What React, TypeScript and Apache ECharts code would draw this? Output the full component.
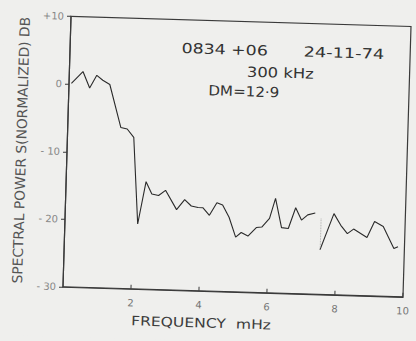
import React, { useEffect, useRef } from "react";
import * as echarts from "echarts";

// Spectrum, first section (before the break near 7.5 mHz)
const freqA = [0.07, 0.4, 0.61, 0.81, 0.99, 1.2, 1.56, 1.75, 1.95, 2.14, 2.35, 2.53, 2.73, 2.93, 3.27, 3.5, 3.7, 3.9, 4.04, 4.24, 4.45, 4.62, 4.82, 5.03, 5.19, 5.39, 5.63, 5.79, 6.01, 6.17, 6.37, 6.57, 6.77, 6.95, 7.13, 7.35];
const powerA = [0.1, 1.9, -0.5, 1.4, 0.7, 0.1, -6.2, -6.4, -7.6, -20.4, -14.1, -15.9, -16.1, -15.3, -18.1, -16.6, -17.5, -17.7, -17.7, -18.8, -16.9, -17.2, -19.0, -21.9, -21.2, -21.7, -20.4, -20.3, -19.0, -16.0, -20.3, -20.4, -17.3, -19.1, -18.3, -18.0];
// Spectrum, second section
const freqB = [7.52, 7.9, 8.11, 8.31, 8.49, 8.89, 9.1, 9.36, 9.69, 9.81];
const powerB = [-23.4, -18.0, -19.7, -20.9, -20.2, -21.4, -19.0, -19.7, -22.9, -22.6];

const yTicks = [10, 0, -10, -20, -30];
const xTicks = [2, 4, 6, 8, 10];

const annotations = ["0834 +06", "24-11-74", "300 kHz", "DM=12·9"];
const xTitle = "FREQUENCY  mHz";
const yTitle = "SPECTRAL POWER S(NORMALIZED) DB";

const PAPER = "#efefed";
const INK = "#2a2a2a";
const FONT = "DejaVu Sans";

export default function App() {
  const ref = useRef<HTMLDivElement>(null);
  useEffect(() => {
    document.body.style.margin = "0";
    document.body.style.background = PAPER;
    if (!ref.current) return;
    const chart = echarts.init(ref.current, null, { renderer: "svg" });
    const segA = freqA.map((f, i) => [f, powerA[i]]);
    const segB = freqB.map((f, i) => [f, powerB[i]]);
    const ann = (i: number, x: number, y: number, sx: number) => ({
      type: "text",
      x,
      y,
      scaleX: sx,
      style: { text: annotations[i], font: `14px ${FONT}`, fill: "#333", verticalAlign: "middle" },
    });
    chart.setOption({
      animation: false,
      backgroundColor: PAPER,
      grid: {
        left: 66.5,
        right: 4,
        top: 20.5,
        bottom: 50,
        show: true,
        borderColor: "#3a3a3a",
        borderWidth: 1.2,
        backgroundColor: "transparent",
      },
      xAxis: {
        type: "value",
        min: 0,
        max: 10,
        interval: 2,
        axisLine: { show: true, onZero: false, lineStyle: { color: "#3a3a3a", width: 1.2 } },
        axisTick: { show: true, inside: true, length: 4, lineStyle: { color: "#3a3a3a" } },
        axisLabel: {
          showMinLabel: false,
          margin: 9,
          fontFamily: FONT,
          fontSize: 10,
          color: "#777",
          formatter: (v: number) => (xTicks.includes(v) ? String(v) : ""),
        },
        splitLine: { show: false },
      },
      yAxis: {
        type: "value",
        min: -30,
        max: 10,
        interval: 10,
        name: yTitle,
        nameLocation: "middle",
        nameGap: 37,
        nameTextStyle: { fontFamily: FONT, fontSize: 13.8, color: "#555" },
        axisLine: { show: true, onZero: false, lineStyle: { color: "#3a3a3a", width: 1.2 } },
        axisTick: { show: true, inside: false, length: 4, lineStyle: { color: "#3a3a3a" } },
        axisLabel: {
          margin: 7,
          fontFamily: FONT,
          fontSize: 10,
          color: "#888",
          formatter: (v: number) =>
            yTicks.includes(v) ? (v > 0 ? "+" + v : v < 0 ? "- " + Math.abs(v) : String(v)) : "",
        },
        splitLine: { show: false },
      },
      series: [
        {
          type: "line",
          data: segA,
          showSymbol: false,
          lineStyle: { color: INK, width: 1.1 },
          markLine: {
            silent: true,
            symbol: "none",
            label: { show: false },
            lineStyle: { color: "#999", type: "dotted", width: 0.8 },
            data: [
              [
                { coord: [freqB[0], powerA[powerA.length - 1] - 0.8] },
                { coord: [freqB[0], powerB[0]] },
              ],
            ],
          },
        },
        {
          type: "line",
          data: segB,
          showSymbol: false,
          lineStyle: { color: INK, width: 1.1 },
        },
      ],
      graphic: [
        ann(0, 178, 49, 1.24),
        ann(1, 300, 49, 1.27),
        ann(2, 244, 71, 1.17),
        ann(3, 206, 90, 1.08),
        {
          type: "text",
          x: 205.5,
          y: 323,
          scaleX: 1.2,
          style: {
            text: xTitle,
            font: `13px ${FONT}`,
            fill: "#3c3c3c",
            align: "center",
            verticalAlign: "middle",
          },
        },
      ],
    });
    return () => chart.dispose();
  }, []);
  return (
    <div style={{ position: "fixed", left: 0, top: 0, width: 416, height: 341, background: PAPER, overflow: "hidden" }}>
      <div style={{ width: 416, height: 341, transform: "rotate(1.7deg)", transformOrigin: "208px 170.5px" }}>
        <div ref={ref} style={{ width: 416, height: 341 }} />
      </div>
    </div>
  );
}
